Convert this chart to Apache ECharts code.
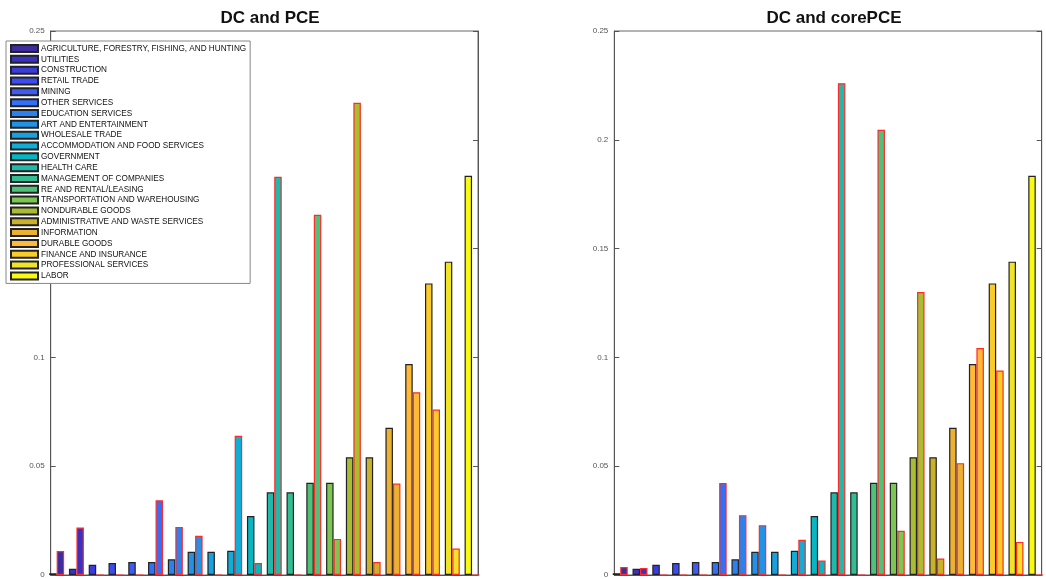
<!DOCTYPE html>
<html>
<head>
<meta charset="utf-8">
<script src="https://cdn.jsdelivr.net/npm/echarts@6/dist/echarts.min.js"></script>
<style>
html,body{margin:0;padding:0;background:#fff;}
#chart{width:1046px;height:579px;}
</style>
</head>
<body>
<div id="chart"></div>
<script>
const sectors = [
  'AGRICULTURE, FORESTRY, FISHING, AND HUNTING','UTILITIES','CONSTRUCTION','RETAIL TRADE','MINING',
  'OTHER SERVICES','EDUCATION SERVICES','ART AND ENTERTAINMENT','WHOLESALE TRADE',
  'ACCOMMODATION AND FOOD SERVICES','GOVERNMENT','HEALTH CARE','MANAGEMENT OF COMPANIES',
  'RE AND RENTAL/LEASING','TRANSPORTATION AND WAREHOUSING','NONDURABLE GOODS',
  'ADMINISTRATIVE AND WASTE SERVICES','INFORMATION','DURABLE GOODS','FINANCE AND INSURANCE',
  'PROFESSIONAL SERVICES','LABOR'
];
const sectorColors = [
  '#3c2c9e','#3b31c0','#3a3ddc','#3c4cf0','#3f5bf2','#3270f8','#2a82f0','#2192e6','#18a1de',
  '#10add6','#06b6c2','#22b9aa','#34bc92','#4fc17a','#7cc653','#a8bd32','#c9b22a','#eab132',
  '#fdb937','#f9cc2a','#f1e326','#f8fa12'
];
const dcValues = [0.0008,0.0029,0.0047,0.0055,0.006,0.006,0.0072,0.0107,0.0107,0.0111,0.0271,
  0.038,0.038,0.0424,0.0424,0.0541,0.0541,0.0677,0.097,0.134,0.144,0.1835];
const pceValues = [0.011,0.0218,0,0,0,0.0343,0.0221,0.018,0,0.064,0.0055,
  0.183,0,0.1655,0.0166,0.217,0.006,0.042,0.084,0.076,0.0122,0];
const corePceValues = [0.0037,0.0032,0,0,0,0.0423,0.0275,0.0229,0,0.0162,0.0067,
  0.226,0,0.2046,0.0203,0.130,0.0076,0.0514,0.1043,0.094,0.0152,0];
const panelTitles = ['DC and PCE','DC and corePCE'];
const yMin = 0, yMax = 0.25, yStep = 0.05;

const font = 'Liberation Sans, Arial, Helvetica, sans-serif';
const grids = [
  {left: 50.7, width: 427.3, top: 31, height: 546, show: true, borderColor: '#666', borderWidth: 1, backgroundColor: '#fff'},
  {left: 614.3, width: 427.4, top: 31, height: 546, show: true, borderColor: '#666', borderWidth: 1, backgroundColor: '#fff'},
  {left: -50, top: -50, width: 10, height: 10}
];
function xAx(i){
  return {type:'value', gridIndex:i, min:0.7, max:22.3, show:true,
    axisLine:{show:true, lineStyle:{color:'#7a4545', width:1}}, axisTick:{show:false},
    axisLabel:{show:false}, splitLine:{show:false}};
}
function yAx(i, pos){
  return {type:'value', gridIndex:i, min:yMin, max:yMax, interval:yStep, position:pos,
    axisLine:{show:true, lineStyle:{color:'#555', width:1}},
    axisTick:{show:true, inside:true, length:5, lineStyle:{color:'#555'}},
    axisLabel:{show: pos==='left', fontSize:8, color:'#555', margin:6, fontFamily:font},
    splitLine:{show:false}};
}
const xAxes = [xAx(0), xAx(1), {type:'value', gridIndex:2, show:false}];
const yAxes = [yAx(0,'left'), yAx(0,'right'), yAx(1,'left'), yAx(1,'right'), {type:'value', gridIndex:2, show:false}];

function barSeries(name, vals, xi, yi, edge){
  return {
    name: name, type:'bar', xAxisIndex: xi, yAxisIndex: yi,
    barWidth: 7.5, barGap: '0%',
    data: vals.map((v,i)=>[i+1, v]),
    itemStyle: {color: p => sectorColors[p.dataIndex], borderColor: edge, borderWidth: 1.2},
    emphasis: {disabled: true}, animation:false
  };
}
const series = [
  barSeries('DC', dcValues, 0, 0, '#222'),
  barSeries('PCE', pceValues, 0, 0, '#ff2a2a'),
  barSeries('DC ', dcValues, 1, 2, '#222'),
  barSeries('corePCE', corePceValues, 1, 2, '#ff2a2a')
];
sectors.forEach((s,i)=>{
  series.push({name:s, type:'bar', xAxisIndex:2, yAxisIndex:4, data:[],
    itemStyle:{color:sectorColors[i], borderColor:'#222', borderWidth:1}});
});

const chart = echarts.init(document.getElementById('chart'), null, {renderer:'canvas'});
chart.setOption({
  animation:false,
  backgroundColor:'#fff',
  title: [
    {text:panelTitles[0], left:265, top:5, textAlign:'center', textStyle:{fontSize:17, fontWeight:'bold', color:'#111', fontFamily:font}},
    {text:panelTitles[1], left:829, top:5, textAlign:'center', textStyle:{fontSize:17, fontWeight:'bold', color:'#111', fontFamily:font}}
  ],
  grid: grids,
  xAxis: xAxes,
  yAxis: yAxes,
  legend: {
    data: sectors, orient:'vertical', left:6, top:41,
    padding:[3,4,3,4], itemGap:1.83, itemWidth:27, itemHeight:7,
    icon:'rect', selectedMode:false,
    backgroundColor:'#fff', borderColor:'#888', borderWidth:1,
    textStyle:{fontSize:8.2, color:'#111', fontFamily:font, lineHeight:9, padding:[0,0,0,-2]}
  },
  series: series
});
</script>
</body>
</html>
